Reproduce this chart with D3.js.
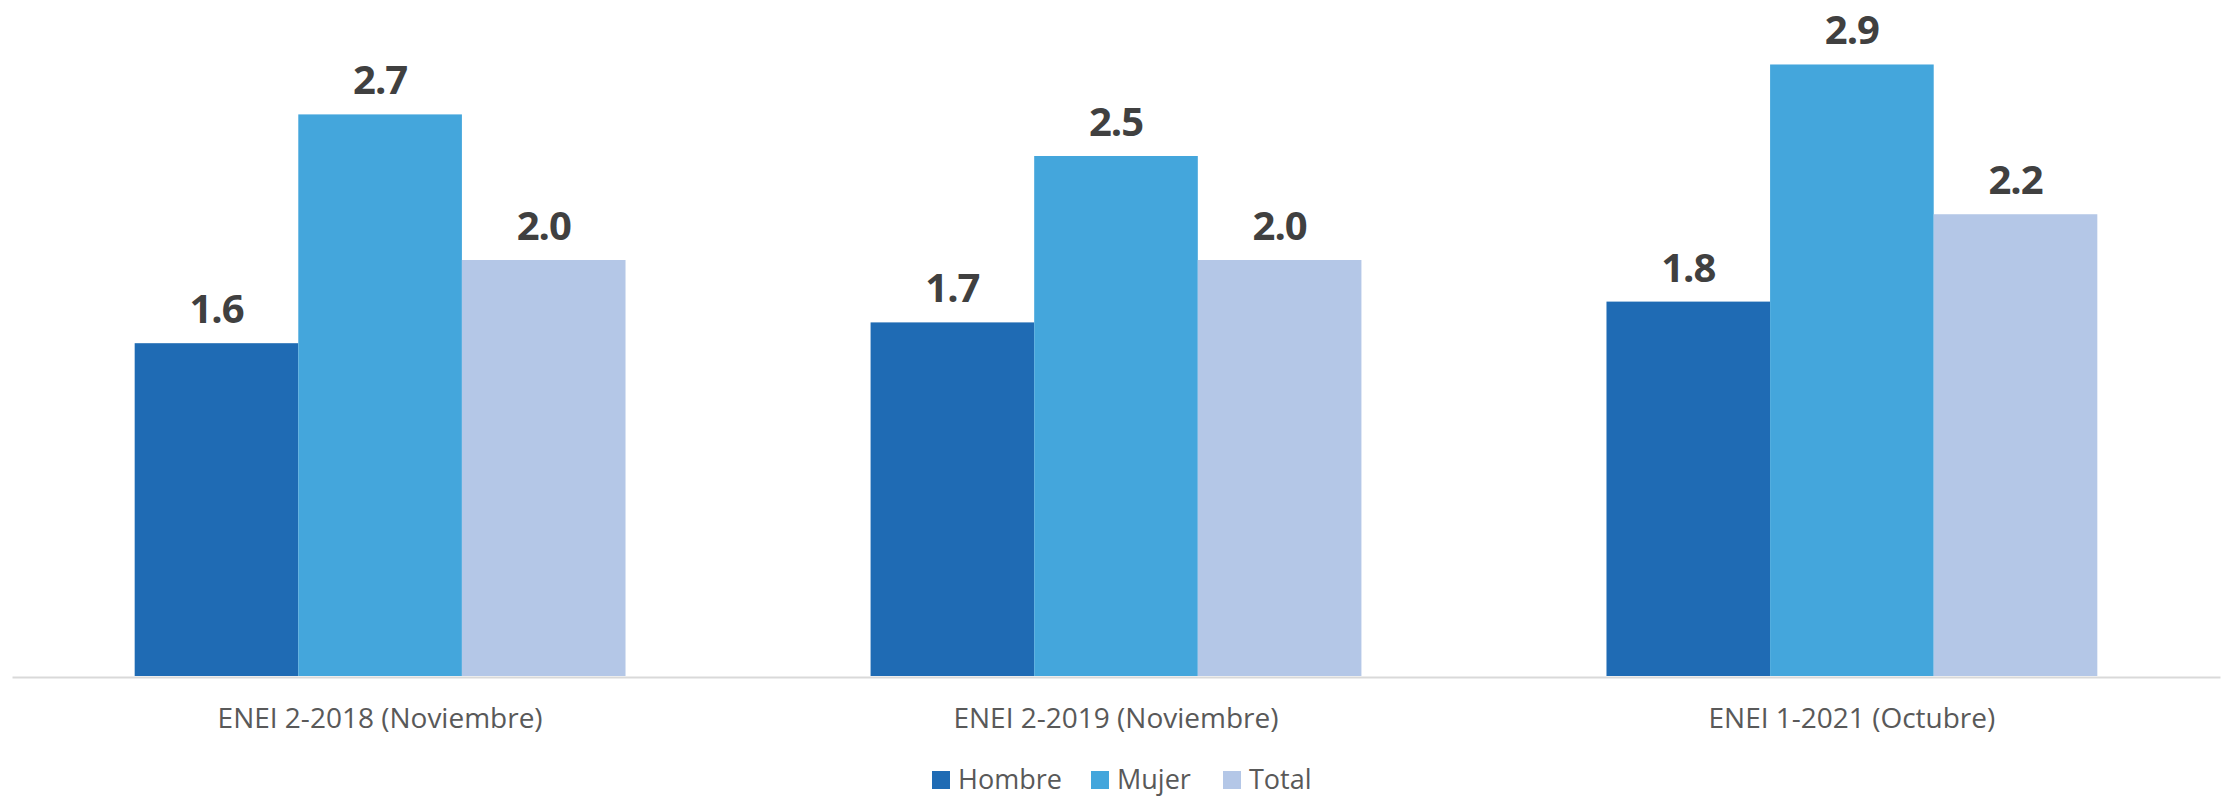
<!DOCTYPE html>
<html>
<head>
<meta charset="utf-8">
<script src="https://cdn.jsdelivr.net/npm/d3@7"></script>
<style>
  body { margin: 0; background: #fff; }
  svg { display: block; font-family: "Open Sans", sans-serif; }
</style>
</head>
<body>
<div id="chart"></div>
<script>
const categories = ["ENEI 2-2018 (Noviembre)", "ENEI 2-2019 (Noviembre)", "ENEI 1-2021 (Octubre)"];
const seriesNames = ["Hombre", "Mujer", "Total"];
const hombre = [1.6, 1.7, 1.8];
const mujer = [2.7, 2.5, 2.94];
const total = [2.0, 2.0, 2.22];
const seriesColors = ["#1f6bb4", "#44a6dc", "#b4c7e7"];

const svgWidth = 2226;
const svgHeight = 798;
const baseY = 676;

const rows = categories.map((c, i) => ({
    cat: c,
    vals: [hombre[i], mujer[i], total[i]]
}));

const svg = d3.select("#chart")
    .append("svg")
    .attr("width", svgWidth)
    .attr("height", svgHeight);

const x = d3.scaleBand()
    .domain(categories)
    .range([12, 2220])
    .paddingInner(0.333)
    .paddingOuter(0.1667);

const xs = d3.scaleBand()
    .domain(seriesNames)
    .range([0, x.bandwidth()])
    .padding(0);

const y = d3.scaleLinear()
    .domain([0, 3.25])
    .range([baseY, 0]);

const groups = svg.append("g")
    .selectAll("g")
    .data(rows)
    .enter()
    .append("g")
    .attr("transform", d => `translate(${x(d.cat)},0)`);

groups.selectAll("rect")
    .data(d => d.vals)
    .enter()
    .append("rect")
    .attr("x", (d, i) => xs(seriesNames[i]))
    .attr("y", d => y(d))
    .attr("width", xs.bandwidth())
    .attr("height", d => baseY - y(d))
    .attr("fill", (d, i) => seriesColors[i]);

groups.selectAll("text")
    .data(d => d.vals)
    .enter()
    .append("text")
    .attr("x", (d, i) => xs(seriesNames[i]) + xs.bandwidth() / 2)
    .attr("y", d => y(d) - 20)
    .attr("text-anchor", "middle")
    .attr("font-size", 40)
    .attr("font-weight", "bold")
    .attr("letter-spacing", -1)
    .attr("fill", "#404040")
    .text(d => d3.format(".1f")(d));

// category axis
const xAxis = svg.append("g")
    .attr("transform", `translate(0,${baseY + 1})`)
    .call(d3.axisBottom(x).tickSize(0).tickPadding(31));

xAxis.select(".domain")
    .attr("stroke", "#d9d9d9")
    .attr("stroke-width", 2);

xAxis.selectAll("text")
    .attr("font-family", "Open Sans, sans-serif")
    .attr("font-size", 28)
    .attr("fill", "#595959");

// legend
const legendItems = [
    { name: "Hombre", x: 932 },
    { name: "Mujer", x: 1091 },
    { name: "Total", x: 1223 }
];

const legend = svg.append("g").attr("class", "legend");

const item = legend.selectAll("g")
    .data(legendItems)
    .enter()
    .append("g")
    .attr("transform", d => `translate(${d.x},771)`);

item.append("rect")
    .attr("width", 18)
    .attr("height", 18)
    .attr("fill", (d, i) => seriesColors[i]);

item.append("text")
    .attr("x", 26)
    .attr("y", 18)
    .attr("font-size", 27)
    .attr("fill", "#595959")
    .text(d => d.name);
</script>
</body>
</html>
